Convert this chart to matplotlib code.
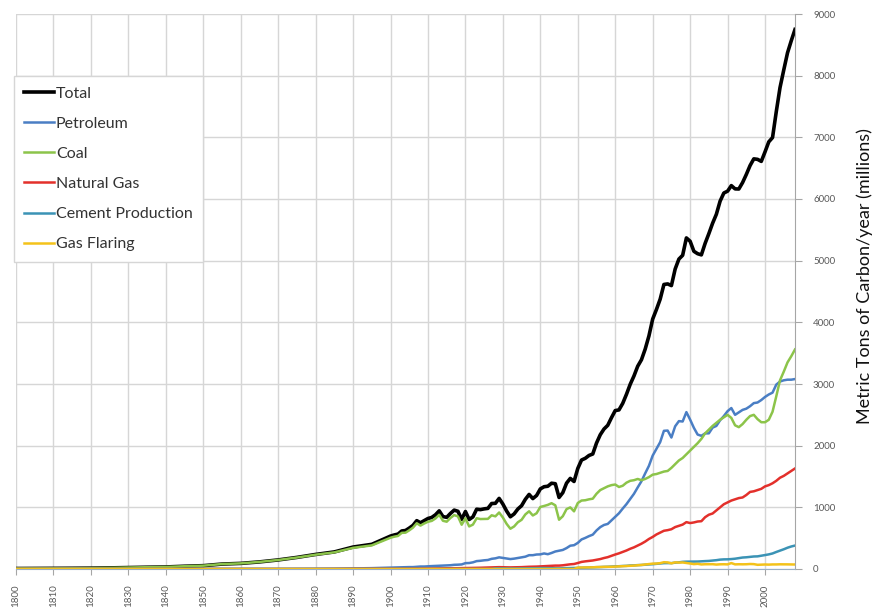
import matplotlib
matplotlib.use("Agg")
import matplotlib.pyplot as plt

# years: every 5 years up to 1900, then yearly
years = list(range(1800, 1901, 5)) + list(range(1901, 2009))

# million metric tons of carbon per year
total = [8, 9, 10, 12, 14, 18, 24, 29, 33, 45, 54, 80, 91, 115, 147, 188, 236, 277, 356, 400, 534,
         552, 566, 617, 624, 663, 707, 784, 750, 785, 819,
         836, 879, 943, 850, 838, 901, 955, 936, 806, 932,
         803, 845, 970, 963, 975, 983, 1062, 1065, 1145, 1053,
         940, 847, 893, 973, 1027, 1130, 1209, 1142, 1192, 1299,
         1334, 1342, 1391, 1383, 1160, 1238, 1392, 1469, 1419,
         1630, 1767, 1795, 1841, 1865, 2042, 2177, 2270, 2330, 2454,
         2569, 2580, 2686, 2833, 2995, 3130, 3288, 3393, 3566, 3780,
         4053, 4208, 4376, 4614, 4623, 4596, 4864, 5026, 5087, 5369,
         5315, 5152, 5113, 5094, 5280, 5439, 5607, 5752, 5965, 6097,
         6127, 6217, 6164, 6162, 6266, 6398, 6542, 6651, 6643, 6610,
         6765, 6927, 6996, 7416, 7807, 8093, 8370, 8566, 8749]

petroleum = [0, 0, 0, 0, 0, 0, 0, 0, 0, 0, 0, 0, 0, 0, 1, 2, 4, 5, 10, 14, 23,
             24, 26, 27, 30, 31, 31, 36, 40, 40, 44,
             47, 50, 54, 57, 59, 61, 68, 70, 74, 95,
             97, 108, 128, 133, 141, 146, 165, 173, 189, 180,
             172, 161, 168, 178, 189, 200, 224, 224, 235, 237,
             252, 240, 260, 284, 296, 309, 339, 378, 386,
             423, 479, 504, 533, 557, 625, 679, 714, 731, 789,
             849, 904, 980, 1052, 1137, 1219, 1323, 1423, 1551, 1673,
             1839, 1947, 2057, 2241, 2245, 2132, 2314, 2398, 2392, 2544,
             2422, 2289, 2180, 2160, 2199, 2200, 2293, 2320, 2412, 2480,
             2560, 2610, 2500, 2540, 2580, 2600, 2640, 2690, 2700, 2740,
             2790, 2830, 2860, 2990, 3040, 3060, 3070, 3070, 3080]

coal = [8, 9, 10, 12, 14, 18, 24, 29, 33, 45, 54, 80, 91, 115, 146, 186, 232, 270, 343, 383, 507,
        524, 536, 586, 589, 627, 671, 742, 704, 738, 766,
        780, 819, 879, 782, 767, 828, 874, 853, 718, 822,
        690, 720, 823, 810, 812, 813, 871, 854, 916, 835,
        732, 653, 690, 758, 798, 885, 936, 868, 904, 1006,
        1022, 1040, 1067, 1033, 799, 856, 971, 999, 935,
        1070, 1110, 1115, 1130, 1140, 1220, 1280, 1310, 1340, 1360,
        1370, 1330, 1350, 1400, 1430, 1440, 1460, 1440, 1460, 1490,
        1530, 1540, 1560, 1580, 1590, 1640, 1700, 1760, 1800, 1860,
        1920, 1980, 2040, 2110, 2200, 2260, 2320, 2370, 2420, 2460,
        2500, 2450, 2330, 2300, 2350, 2420, 2480, 2500, 2430, 2380,
        2380, 2420, 2550, 2800, 3060, 3200, 3350, 3450, 3560]

natural_gas = [0] * 17 + [2, 3, 3, 4] + [
    4, 4, 4, 5, 5, 5, 6, 6, 7, 9,
    9, 10, 10, 11, 12, 12, 13, 13, 14, 15,
    16, 17, 19, 20, 22, 24, 26, 28, 30, 28,
    27, 26, 27, 28, 30, 33, 36, 37, 39, 42,
    45, 48, 52, 55, 55, 60, 68, 76, 81,
    97, 115, 124, 131, 138, 150, 161, 178, 192, 214,
    235, 254, 277, 300, 328, 351, 380, 410, 445, 487,
    520, 560, 590, 620, 630, 645, 680, 700, 720, 760,
    745, 755, 770, 775, 840, 880, 900, 950, 1000, 1050,
    1080, 1110, 1130, 1150, 1160, 1200, 1250, 1260, 1280, 1300,
    1340, 1360, 1390, 1430, 1480, 1510, 1550, 1590, 1630]

cement = [0] * 21 + [0] * 27 + [
    10, 10, 10, 9, 7, 8, 9, 10, 12, 13, 13, 14, 14, 15, 14, 12, 11, 10, 13, 14, 16, 17,
    18, 21, 23, 25, 27, 30, 32, 34, 36, 40,
    43, 45, 49, 51, 57, 59, 63, 65, 70, 74,
    78, 84, 89, 95, 96, 95, 103, 108, 116, 119,
    120, 121, 121, 125, 128, 131, 137, 143, 152, 156,
    157, 161, 167, 176, 186, 190, 197, 203, 205, 215,
    226, 237, 252, 276, 298, 320, 345, 365, 380]

gas_flaring = [0] * 21 + [0] * 49 + [
    23, 24, 26, 27, 27, 31, 32, 35, 35, 36,
    39, 42, 44, 47, 51, 55, 60, 66, 73, 80,
    87, 88, 95, 110, 107, 92, 108, 104, 106, 98,
    89, 79, 84, 74, 77, 77, 78, 72, 76, 77,
    75, 96, 75, 77, 76, 77, 81, 79, 68, 70,
    73, 71, 74, 74, 76, 76, 75, 74, 73]

series = [
    ("Total", total, "#000000", 2.6),
    ("Petroleum", petroleum, "#4A7EC4", 1.8),
    ("Coal", coal, "#8CC44A", 1.8),
    ("Natural Gas", natural_gas, "#E3302B", 1.8),
    ("Cement Production", cement, "#3B93B5", 1.8),
    ("Gas Flaring", gas_flaring, "#F4C21A", 1.8),
]

plt.rcParams['font.family'] = ['Lato', 'DejaVu Sans']

fig = plt.figure(figsize=(8.78, 6.08), dpi=100)
ax = fig.add_axes([16 / 878, 1 - 569 / 608, 779 / 878, 555 / 608])

for name, vals, col, lw in series:
    ax.plot(years, vals, color=col, lw=lw, label=name, solid_joinstyle='round')

ax.set_xlim(1800, 2008)
ax.set_ylim(0, 9000)
ax.set_xticks(range(1800, 2001, 10))
ax.set_yticks(range(0, 9001, 1000))
ax.grid(True, color='#D6D6D6', lw=1)
ax.set_axisbelow(True)

ax.yaxis.tick_right()
ax.tick_params(axis='y', direction='out', length=5, color='#A6A6A6',
               labelsize=7, labelcolor='#595959', pad=8)
ax.tick_params(axis='x', direction='out', length=4, color='#A6A6A6',
               labelsize=7, labelcolor='#595959', pad=7, labelrotation=90)

for s in ['top', 'left']:
    ax.spines[s].set_visible(False)
ax.spines['right'].set_color('#A6A6A6')
ax.spines['bottom'].set_color('#9AAFC4')

# axis title on the right side
fig.text(865 / 878, 1 - 276 / 608, "Metric Tons of Carbon/year (millions)",
         rotation=90, ha='center', va='center', fontsize=13, color='#111111')

leg = ax.legend(loc='upper left', bbox_to_anchor=(-0.003, (569 - 76) / 555),
                fontsize=11.5, frameon=True, fancybox=False, framealpha=1,
                edgecolor='#D6D6D6', handlelength=1.9, handletextpad=0.1,
                labelspacing=1.0, borderpad=0.65, borderaxespad=0)
leg.get_frame().set_linewidth(1)
for t in leg.get_texts():
    t.set_color('#333333')

fig.savefig("out.png", dpi=100)
